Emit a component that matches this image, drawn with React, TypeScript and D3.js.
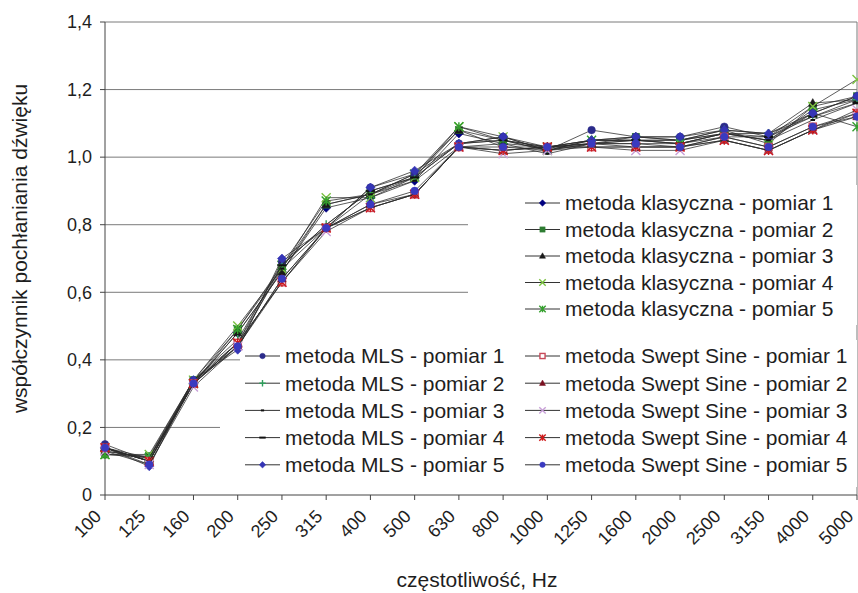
import React from "react";
import * as d3 from "d3";

// Third-octave band centre frequencies, Hz
const FREQS = ["100", "125", "160", "200", "250", "315", "400", "500", "630", "800", "1000", "1250", "1600", "2000", "2500", "3150", "4000", "5000"];

// Sound absorption coefficient — classic (impedance tube) method
const KLAS_1 = [0.13, 0.11, 0.33, 0.48, 0.66, 0.85, 0.88, 0.93, 1.07, 1.04, 1.03, 1.05, 1.05, 1.04, 1.07, 1.05, 1.14, 1.17];
const KLAS_2 = [0.12, 0.115, 0.34, 0.49, 0.67, 0.86, 0.89, 0.94, 1.08, 1.05, 1.03, 1.04, 1.06, 1.05, 1.08, 1.04, 1.15, 1.18];
const KLAS_3 = [0.13, 0.11, 0.33, 0.48, 0.66, 0.86, 0.89, 0.95, 1.08, 1.03, 1.02, 1.05, 1.06, 1.05, 1.07, 1.07, 1.16, 1.17];
const KLAS_4 = [0.12, 0.12, 0.34, 0.5, 0.67, 0.88, 0.88, 0.94, 1.09, 1.06, 1.02, 1.04, 1.05, 1.04, 1.06, 1.06, 1.15, 1.23];
const KLAS_5 = [0.12, 0.11, 0.33, 0.49, 0.68, 0.87, 0.89, 0.95, 1.09, 1.05, 1.03, 1.05, 1.05, 1.05, 1.07, 1.05, 1.13, 1.09];

// MLS method
const MLS_1 = [0.15, 0.1, 0.34, 0.45, 0.69, 0.79, 0.91, 0.95, 1.04, 1.06, 1.02, 1.08, 1.06, 1.06, 1.09, 1.06, 1.13, 1.18];
const MLS_2 = [0.14, 0.11, 0.34, 0.46, 0.68, 0.8, 0.9, 0.94, 1.04, 1.05, 1.02, 1.05, 1.05, 1.05, 1.08, 1.07, 1.12, 1.17];
const MLS_3 = [0.14, 0.1, 0.33, 0.45, 0.67, 0.79, 0.89, 0.93, 1.03, 1.04, 1.01, 1.04, 1.04, 1.04, 1.07, 1.05, 1.11, 1.16];
const MLS_4 = [0.14, 0.1, 0.34, 0.44, 0.68, 0.8, 0.9, 0.94, 1.04, 1.05, 1.02, 1.04, 1.05, 1.04, 1.07, 1.06, 1.12, 1.16];
const MLS_5 = [0.14, 0.085, 0.34, 0.43, 0.7, 0.79, 0.91, 0.96, 1.04, 1.06, 1.03, 1.05, 1.06, 1.06, 1.08, 1.07, 1.13, 1.18];

// Swept Sine method
const SWEPT_1 = [0.14, 0.1, 0.33, 0.45, 0.63, 0.79, 0.85, 0.89, 1.03, 1.02, 1.03, 1.03, 1.03, 1.03, 1.06, 1.03, 1.09, 1.13];
const SWEPT_2 = [0.14, 0.1, 0.33, 0.44, 0.64, 0.79, 0.86, 0.89, 1.03, 1.02, 1.03, 1.04, 1.03, 1.03, 1.05, 1.02, 1.08, 1.12];
const SWEPT_3 = [0.13, 0.09, 0.32, 0.44, 0.63, 0.78, 0.85, 0.89, 1.03, 1.01, 1.02, 1.03, 1.02, 1.02, 1.05, 1.02, 1.08, 1.14];
const SWEPT_4 = [0.14, 0.1, 0.33, 0.45, 0.63, 0.79, 0.85, 0.89, 1.03, 1.02, 1.03, 1.03, 1.03, 1.03, 1.05, 1.02, 1.08, 1.13];
const SWEPT_5 = [0.14, 0.09, 0.33, 0.44, 0.64, 0.79, 0.86, 0.9, 1.03, 1.03, 1.03, 1.04, 1.04, 1.03, 1.06, 1.03, 1.09, 1.12];

const Y_TICKS = [0, 0.2, 0.4, 0.6, 0.8, 1.0, 1.2, 1.4];

const X_TITLE = "częstotliwość, Hz";
const Y_TITLE = "współczynnik pochłaniania dźwięku";

type Marker = "diamond" | "square" | "triangle" | "x" | "star" | "circle" | "plus" | "dash" | "longdash";
type Series = { name: string; values: number[]; marker: Marker; color: string; fill?: string };

const KLAS: Series[] = [
  { name: "metoda klasyczna - pomiar 1", values: KLAS_1, marker: "diamond", color: "#000080" },
  { name: "metoda klasyczna - pomiar 2", values: KLAS_2, marker: "square", color: "#2e7d32" },
  { name: "metoda klasyczna - pomiar 3", values: KLAS_3, marker: "triangle", color: "#1a1a1a" },
  { name: "metoda klasyczna - pomiar 4", values: KLAS_4, marker: "x", color: "#7cc242" },
  { name: "metoda klasyczna - pomiar 5", values: KLAS_5, marker: "star", color: "#33a02c" },
];
const MLS: Series[] = [
  { name: "metoda MLS - pomiar 1", values: MLS_1, marker: "circle", color: "#2b2b8a" },
  { name: "metoda MLS - pomiar 2", values: MLS_2, marker: "plus", color: "#2e9e5b" },
  { name: "metoda MLS - pomiar 3", values: MLS_3, marker: "dash", color: "#111111" },
  { name: "metoda MLS - pomiar 4", values: MLS_4, marker: "longdash", color: "#111111" },
  { name: "metoda MLS - pomiar 5", values: MLS_5, marker: "diamond", color: "#3535b5" },
];
const SWEPT: Series[] = [
  { name: "metoda Swept Sine - pomiar 1", values: SWEPT_1, marker: "square", color: "#c84a5a", fill: "#ffffff" },
  { name: "metoda Swept Sine - pomiar 2", values: SWEPT_2, marker: "triangle", color: "#7a1020" },
  { name: "metoda Swept Sine - pomiar 3", values: SWEPT_3, marker: "x", color: "#c8a0d8" },
  { name: "metoda Swept Sine - pomiar 4", values: SWEPT_4, marker: "star", color: "#d01818" },
  { name: "metoda Swept Sine - pomiar 5", values: SWEPT_5, marker: "circle", color: "#3a3ac0" },
];

const W = 858;
const H = 593;
const FONT = "'Liberation Sans', Arial, Helvetica, sans-serif";

const x = d3.scalePoint<string>().domain(FREQS).range([105, 857]);
const y = d3.scaleLinear().domain([0, 1.4]).range([495, 22]);

function MarkerShape({ kind, color, fill, cx, cy, r }: { kind: Marker; color: string; fill?: string; cx: number; cy: number; r: number }) {
  const t = `translate(${cx},${cy})`;
  switch (kind) {
    case "diamond":
      return <path transform={t} d={`M0,${-r}L${r},0L0,${r}L${-r},0Z`} fill={color} stroke={color} strokeWidth={0.6} />;
    case "square":
      return <rect x={cx - r * 0.8} y={cy - r * 0.8} width={r * 1.6} height={r * 1.6} fill={fill ?? color} stroke={color} strokeWidth={fill ? 1.4 : 0.6} />;
    case "triangle":
      return <path transform={t} d={`M0,${-r}L${r * 0.95},${r * 0.7}L${-r * 0.95},${r * 0.7}Z`} fill={color} stroke={color} strokeWidth={0.5} />;
    case "circle":
      return <circle cx={cx} cy={cy} r={r * 0.85} fill={color} stroke={color} strokeWidth={0.5} />;
    case "x":
      return <path transform={t} d={`M${-r},${-r}L${r},${r}M${-r},${r}L${r},${-r}`} stroke={color} strokeWidth={1.4} fill="none" />;
    case "star":
      return <path transform={t} d={`M${-r},${-r}L${r},${r}M${-r},${r}L${r},${-r}M0,${-r}L0,${r}`} stroke={color} strokeWidth={1.4} fill="none" />;
    case "plus":
      return <path transform={t} d={`M${-r},0L${r},0M0,${-r}L0,${r}`} stroke={color} strokeWidth={1.4} fill="none" />;
    case "dash":
      return <path transform={t} d={`M${-r * 0.5},0L${r * 0.5},0`} stroke={color} strokeWidth={2} fill="none" />;
    case "longdash":
      return <path transform={t} d={`M${-r},0L${r},0`} stroke={color} strokeWidth={2} fill="none" />;
  }
}

const line = d3
  .line<number>()
  .x((_, i) => x(FREQS[i]) as number)
  .y((v) => y(v));

function SeriesLayer({ s }: { s: Series }) {
  return (
    <g>
      <path d={line(s.values) ?? ""} fill="none" stroke="#2a2a2a" strokeWidth={0.9} strokeOpacity={0.85} />
      {s.values.map((v, i) => (
        <MarkerShape key={i} kind={s.marker} color={s.color} fill={s.fill} cx={x(FREQS[i]) as number} cy={y(v)} r={4.5} />
      ))}
    </g>
  );
}

function Legend({ items, x0, y0, step }: { items: Series[]; x0: number; y0: number; step: number }) {
  return (
    <g>
      {items.map((s, i) => {
        const cy = y0 + i * step;
        return (
          <g key={s.name}>
            <line x1={x0} x2={x0 + 35} y1={cy} y2={cy} stroke="#333" strokeWidth={1} />
            <MarkerShape kind={s.marker} color={s.color} fill={s.fill} cx={x0 + 17.5} cy={cy} r={3.2} />
            <text x={x0 + 40} y={cy} dy="0.35em" fontSize={21} fill="#1e1e1e" fontFamily={FONT}>
              {s.name}
            </text>
          </g>
        );
      })}
    </g>
  );
}

export default function App() {
  const [x0, x1] = x.range();
  const [yb, yt] = y.range();
  return (
    <svg width={W} height={H} style={{ position: "absolute", left: 0, top: 0, background: "#fff" }} fontFamily={FONT}>
      <rect width={W} height={H} fill="#ffffff" />

      {/* horizontal gridlines */}
      {Y_TICKS.filter((t) => t > 0).map((t) => (
        <line key={t} x1={x0} x2={x1} y1={y(t)} y2={y(t)} stroke="#7a7a7a" strokeWidth={1} />
      ))}
      {/* right frame edge */}
      <line x1={x1} x2={x1} y1={yt} y2={yb} stroke="#7a7a7a" strokeWidth={1} />

      {/* opaque legend backgrounds */}
      <rect x={468} y={185} width={x1 - 468} height={140} fill="#ffffff" />
      <rect x={240} y={340} width={x1 - 240} height={yb - 340 - 8} fill="#ffffff" />
      <rect x={220} y={405} width={30} height={yb - 405 - 8} fill="#ffffff" />

      {/* axes */}
      <line x1={x0} x2={x0} y1={yt} y2={yb} stroke="#444" strokeWidth={1} />
      <line x1={x0} x2={x1} y1={yb} y2={yb} stroke="#444" strokeWidth={1} />
      {Y_TICKS.map((t) => (
        <g key={t}>
          <line x1={x0 - 5} x2={x0} y1={y(t)} y2={y(t)} stroke="#444" />
          <text x={x0 - 13} y={y(t)} dy="0.35em" textAnchor="end" fontSize={18} fill="#1e1e1e">
            {t === 0 ? "0" : d3.format(".1f")(t).replace(".", ",")}
          </text>
        </g>
      ))}
      {FREQS.map((f) => {
        const px = x(f) as number;
        return (
          <g key={f}>
            <line x1={px} x2={px} y1={yb} y2={yb + 5} stroke="#444" />
            <text
              transform={`translate(${px - 7},${yb + 18}) rotate(-45)`}
              dy="0.35em"
              textAnchor="end"
              fontSize={18}
              fill="#1e1e1e"
            >
              {f}
            </text>
          </g>
        );
      })}

      {/* data series */}
      {[...KLAS, ...MLS, ...SWEPT].map((s) => (
        <SeriesLayer key={s.name} s={s} />
      ))}

      {/* legends */}
      <Legend items={KLAS} x0={525} y0={203} step={26.5} />
      <Legend items={MLS} x0={245} y0={356} step={27.2} />
      <Legend items={SWEPT} x0={525} y0={356} step={27.2} />

      {/* axis titles */}
      <text x={477} y={580} dy="0.35em" textAnchor="middle" fontSize={21} fill="#1e1e1e">
        {X_TITLE}
      </text>
      <text transform={`translate(20,${(yt + yb) / 2 - 10}) rotate(-90)`} dy="0.35em" textAnchor="middle" fontSize={21} fill="#1e1e1e">
        {Y_TITLE}
      </text>
    </svg>
  );
}
